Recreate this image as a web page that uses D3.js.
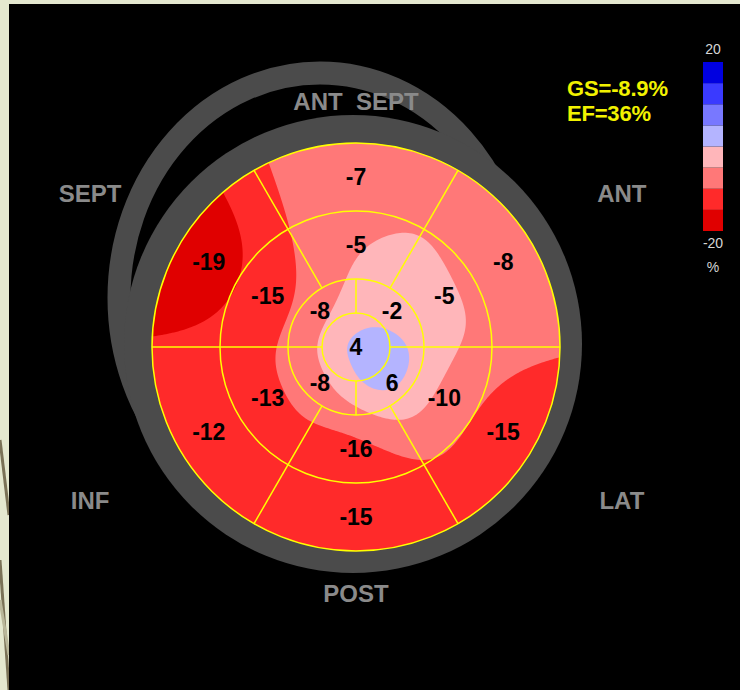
<!DOCTYPE html>
<html>
<head>
<meta charset="utf-8">
<script src="https://cdn.jsdelivr.net/npm/d3@7"></script>
<style>
  html, body { margin: 0; padding: 0; background: #e4e8cf; }
  svg { display: block; }
  text { font-family: "Liberation Sans", Arial, sans-serif; }
</style>
</head>
<body>
<svg id="chart" width="740" height="690"></svg>
<script>
// ── Segment values (strain %) ──
const wallNames   = ["ANT  SEPT", "ANT", "LAT", "POST", "INF", "SEPT"];
const basalValues = [-7, -8, -15, -15, -12, -19];   // same order as wallNames
const midValues   = [-5, -5, -10, -16, -13, -15];
const apicalValues = [-2, 6, -8, -8];               // upper-right, lower-right, lower-left, upper-left
const apexValue = 4;

// ── Colour scale (-20 .. 20 in steps of 5) ──
const scaleSteps  = [-15, -10, -5, 0, 5, 10, 15];
const scaleColors = ["#e00000", "#ff2a2a", "#ff7878", "#ffb6ba", "#b4b4ff", "#7878ff", "#3a3aff", "#0000e0"];
const scaleMin = -20, scaleMax = 20;
const legendUnit = "%";

const gsText = "GS=-8.9%";
const efText = "EF=36%";

// ── Layout ──
const cx = 356, cy = 347, R = 204;
const ringGray = "#4b4b4b";
const yellow = "#ffff00";

const svg = d3.select("#chart");

const color = d3.scaleThreshold().domain(scaleSteps).range(scaleColors);

// polar helper: angle in degrees clockwise from 12 o'clock
const pt = (a, r) => [cx + r * Math.sin(a * Math.PI / 180), cy - r * Math.cos(a * Math.PI / 180)];

// ── Slide background bits ──
svg.append("g")
  .selectAll("line")
  .data([[0, 440, 9, 515], [0, 560, 9, 690], [0, 600, 9, 655]])
  .join("line")
  .attr("x1", d => d[0]).attr("y1", d => d[1])
  .attr("x2", d => d[2]).attr("y2", d => d[3])
  .attr("stroke", (d, i) => i === 2 ? "#b9b79a" : "#7a7257")
  .attr("stroke-width", 3);

svg.append("rect")
  .attr("x", 9).attr("y", 4)
  .attr("width", 740 - 9).attr("height", 690 - 4)
  .attr("fill", "#000");

// ── Grey rings behind the plot ──
svg.append("ellipse")
  .attr("cx", 320).attr("cy", 298)
  .attr("rx", 201).attr("ry", 225)
  .attr("fill", "none")
  .attr("stroke", ringGray)
  .attr("stroke-width", 23);

svg.append("circle")
  .attr("cx", 353).attr("cy", 344)
  .attr("r", 229)
  .attr("fill", ringGray);

// ── Sample points at segment centres ──
const samples = [];
basalValues.forEach((v, i) => samples.push({ a: i * 60, r: R * 5 / 6, v }));
midValues.forEach((v, i) => samples.push({ a: i * 60, r: R / 2, v }));
apicalValues.forEach((v, i) => samples.push({ a: 45 + i * 90, r: R / 4, v }));
samples.push({ a: 0, r: 0, v: apexValue });
samples.forEach(s => { [s.x, s.y] = pt(s.a, s.r); });

// smooth strain map from the 17 segment values
// (kernel widens towards the rim, where segments are larger)
function field(x, y) {
  const rr = Math.hypot(x - cx, y - cy);
  const sigma = 26 + 0.18 * Math.min(rr, R);
  let num = 0, den = 0;
  samples.forEach(s => {
    const w = Math.exp(-((x - s.x) ** 2 + (y - s.y) ** 2) / (2 * sigma * sigma));
    num += w * s.v;
    den += w;
  });
  return num / den;
}

const step = 2;
const x0 = cx - R - 8, y0 = cy - R - 8;
const n = Math.ceil((2 * R + 16) / step) + 1;
const grid = new Array(n * n);
for (let j = 0; j < n; j++) {
  for (let i = 0; i < n; i++) {
    grid[j * n + i] = field(x0 + i * step, y0 + j * step);
  }
}

const contours = d3.contours().size([n, n]).thresholds(scaleSteps)(grid);
const path = d3.geoPath(d3.geoIdentity().scale(step).translate([x0 - step / 2, y0 - step / 2]));

svg.append("clipPath").attr("id", "disc")
  .append("circle").attr("cx", cx).attr("cy", cy).attr("r", R);

const map = svg.append("g").attr("clip-path", "url(#disc)");

map.append("circle")
  .attr("cx", cx).attr("cy", cy).attr("r", R)
  .attr("fill", color(scaleMin));

map.selectAll("path")
  .data(contours)
  .join("path")
  .attr("d", path)
  .attr("fill", d => color(d.value));

// ── Segment outlines ──
const rings = [R / 6, R / 3, R * 2 / 3, R];
svg.append("g").selectAll("circle")
  .data(rings)
  .join("circle")
  .attr("cx", cx).attr("cy", cy).attr("r", d => d)
  .attr("fill", "none")
  .attr("stroke", yellow)
  .attr("stroke-width", 1.5);

const spokes = [
  ...[30, 90, 150, 210, 270, 330].map(a => ({ a, r0: R / 3, r1: R })),
  ...[0, 90, 180, 270].map(a => ({ a, r0: R / 6, r1: R / 3 }))
];
svg.append("g").selectAll("line")
  .data(spokes)
  .join("line")
  .attr("x1", d => pt(d.a, d.r0)[0]).attr("y1", d => pt(d.a, d.r0)[1])
  .attr("x2", d => pt(d.a, d.r1)[0]).attr("y2", d => pt(d.a, d.r1)[1])
  .attr("stroke", yellow)
  .attr("stroke-width", 1.5);

// ── Segment values ──
svg.append("g").selectAll("text")
  .data(samples)
  .join("text")
  .attr("x", d => d.x)
  .attr("y", d => d.y)
  .attr("dy", "0.36em")
  .attr("text-anchor", "middle")
  .attr("font-size", 23)
  .attr("font-weight", "bold")
  .attr("fill", "#000")
  .text(d => d.v);

// ── Wall names ──
svg.append("g").selectAll("text")
  .data(wallNames)
  .join("text")
  .attr("x", (d, i) => pt(i * 60, i % 3 === 0 ? 246 : 307)[0])
  .attr("y", (d, i) => pt(i * 60, i % 3 === 0 ? 246 : 307)[1])
  .attr("dy", "0.36em")
  .attr("text-anchor", "middle")
  .attr("font-size", 24)
  .attr("font-weight", "bold")
  .attr("fill", "#8a8a8a")
  .style("white-space", "pre")
  .text(d => d);

// ── Global strain / EF ──
svg.append("g").selectAll("text")
  .data([gsText, efText])
  .join("text")
  .attr("x", 567)
  .attr("y", (d, i) => 96 + i * 25)
  .attr("font-size", 22)
  .attr("font-weight", "bold")
  .attr("fill", "#f2f200")
  .attr("textLength", (d, i) => i === 0 ? 101 : 84)
  .text(d => d);

// ── Colour bar ──
const edges = [scaleMin, ...scaleSteps, scaleMax];
const yBar = d3.scaleLinear().domain([scaleMax, scaleMin]).range([62, 231]);
const legend = svg.append("g");

legend.selectAll("rect")
  .data(scaleColors)
  .join("rect")
  .attr("x", 703)
  .attr("width", 20)
  .attr("y", (d, i) => yBar(edges[i + 1]))
  .attr("height", (d, i) => yBar(edges[i]) - yBar(edges[i + 1]))
  .attr("fill", d => d);

legend.selectAll("text")
  .data([String(scaleMax), String(scaleMin), legendUnit])
  .join("text")
  .attr("x", 713)
  .attr("y", (d, i) => [yBar(scaleMax) - 8, yBar(scaleMin) + 17, yBar(scaleMin) + 41][i])
  .attr("text-anchor", "middle")
  .attr("font-size", 14)
  .attr("fill", "#d6d6d6")
  .text(d => d);
</script>
</body>
</html>
